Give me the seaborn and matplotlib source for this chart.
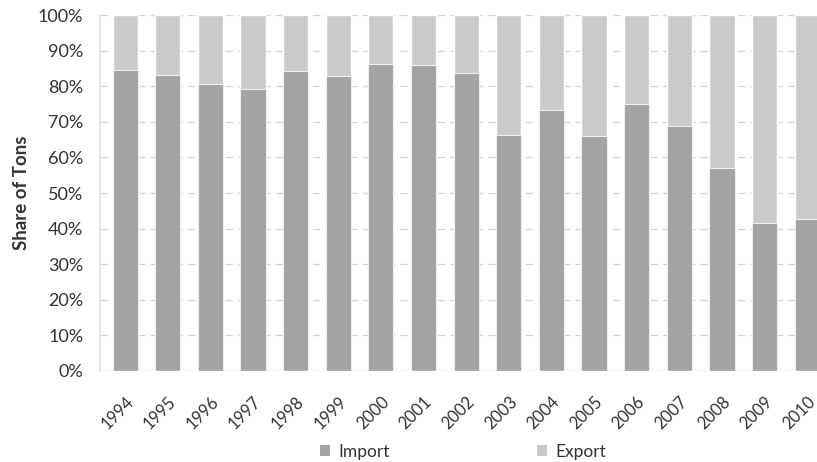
import matplotlib
matplotlib.use("Agg")
import matplotlib.pyplot as plt
import seaborn as sns
import pandas as pd
from matplotlib.patches import Patch
from matplotlib.ticker import PercentFormatter

years = ["1994", "1995", "1996", "1997", "1998", "1999", "2000", "2001", "2002",
         "2003", "2004", "2005", "2006", "2007", "2008", "2009", "2010"]
import_share = [84.5, 83.2, 80.5, 79.2, 84.3, 83.0, 86.2, 85.9, 83.8,
                66.4, 73.4, 66.1, 75.1, 68.9, 57.1, 41.6, 42.8]
export_share = [100 - v for v in import_share]

df = pd.DataFrame({"year": years, "Import": import_share, "Export": export_share})
df["Total"] = df["Import"] + df["Export"]

sns.set_theme(style="white")
plt.rcParams["font.family"] = ["Lato", "DejaVu Sans"]

imp_color = "#a3a3a3"
exp_color = "#cbcbcb"

fig = plt.figure(figsize=(8.17, 4.62), dpi=100)
ax = fig.add_axes([0.1224, 0.197, 0.8776, 0.7705])

sns.barplot(data=df, x="year", y="Total", color=exp_color, width=0.59,
            saturation=1, ax=ax, zorder=3)
sns.barplot(data=df, x="year", y="Import", color=imp_color, width=0.59,
            saturation=1, ax=ax, zorder=4, edgecolor="#eeeeee", linewidth=0.8)

ax.set_ylim(0, 100)
ax.set_xlim(-0.59, 16.23)
ax.set_yticks(range(0, 101, 10))
ax.yaxis.set_major_formatter(PercentFormatter(decimals=0))
ax.grid(axis="y", color="#d4d4d4", linestyle=(0, (6, 4)), linewidth=0.9, zorder=0)
for s in ["top", "right", "bottom"]:
    ax.spines[s].set_visible(False)
ax.spines["left"].set_color("#e0e0e0")
ax.axhline(0, color="#d0d0d0", linewidth=1, zorder=5)

ax.set_xlabel("")
ax.set_ylabel("Share of Tons", fontsize=13.5, fontweight="bold", color="#333333", labelpad=6)
ax.tick_params(axis="y", labelsize=13, colors="#333333", length=0, pad=12)
ax.tick_params(axis="x", labelsize=12, colors="#333333", length=0, pad=16)
for lbl in ax.get_xticklabels():
    lbl.set_rotation(45)
    lbl.set_ha("right")
    lbl.set_rotation_mode("anchor")

handles = [Patch(facecolor=imp_color, edgecolor="none", label="Import"),
           Patch(facecolor=exp_color, edgecolor="none", label="Export")]
fig.legend(handles=handles, loc="center", bbox_to_anchor=(0.567, 0.022), ncol=2,
           frameon=False, fontsize=12.5, handlelength=0.55, handleheight=0.55,
           handletextpad=0.5, columnspacing=8.5, labelcolor="#333333")

fig.savefig("out.png", dpi=100)
